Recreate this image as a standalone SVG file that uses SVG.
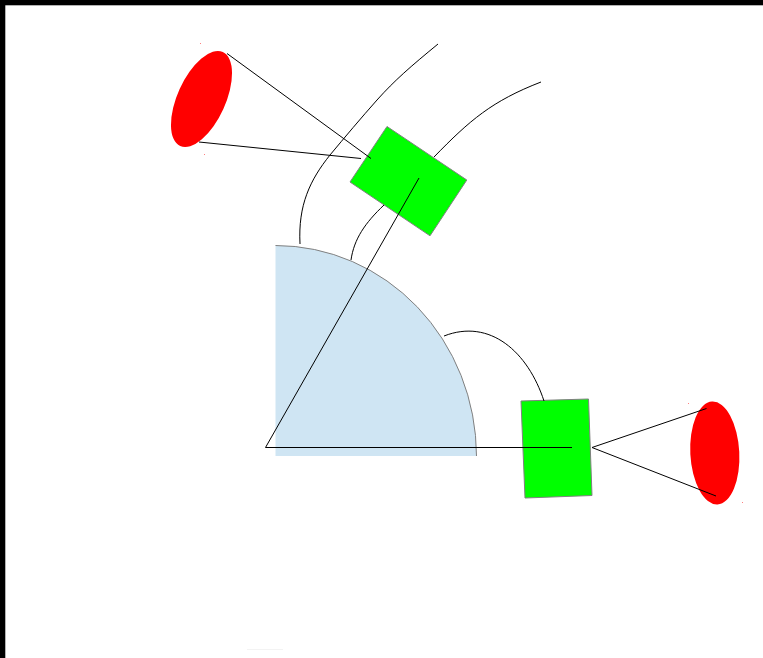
<svg xmlns="http://www.w3.org/2000/svg" width="763" height="658" viewBox="0 0 763 658">
<style>
.green{fill:#00ff00;stroke:#808080;stroke-width:1}
.red{fill:#ff0000;stroke:none}
.ln{fill:none;stroke:#000;stroke-width:1}
.dot{fill:#ff0000;opacity:.5}
</style>
<rect width="763" height="658" fill="#fff"/>
<g id="frame"><rect x="0" y="0" width="763" height="5.300" fill="#000"/><rect x="0" y="0" width="5.300" height="658" fill="#000"/><path d="M247 649.500H283" stroke="#f3f3f3" fill="none"/></g>
<g id="sector"><path d="M275.500 245.500A201 211 0 0 1 476.500 456L275.500 456Z" fill="#cfe5f3"/><path d="M275.500 245.500A201 211 0 0 1 476.500 456" fill="none" stroke="#808080"/></g>
<g id="box-top"><polygon class="green" points="387,126.500 466.800,180 430,235.800 350,182"/></g>
<g id="box-right"><polygon class="green" points="521,401 588.500,399 592,495.500 525,498"/></g>
<g id="lens-top"><ellipse class="red" cx="201.500" cy="99" rx="24" ry="51.600" transform="rotate(24.400 201.500 99)"/><rect class="dot" x="200" y="43" width="1" height="1"/><rect class="dot" x="204" y="154" width="1" height="1"/></g>
<g id="lens-right"><ellipse class="red" cx="714.800" cy="453" rx="24.500" ry="51.500" transform="rotate(-3 714.800 453)"/><rect class="dot" x="688" y="403" width="1" height="1"/><rect class="dot" x="742" y="502" width="1" height="1"/></g>
<g id="connectors">
<path class="ln" d="M265.500 447.500L572 447.500"/>
<path class="ln" d="M265.500 447.500L419 178"/>
<path class="ln" d="M227 53.500L371 158.500"/>
<path class="ln" d="M199 142L361 158.500"/>
<path class="ln" d="M706.500 408.500L592 447.500L716 496"/>
<path class="ln" d="M300 244C298 205 310 180 330 155C345 137 361 118 377 100C395 80 410 67 438 44"/>
<path class="ln" d="M434 157C470 120 492 101 541 82"/>
<path class="ln" d="M351 260C354 239 365 223 384 205"/>
<path class="ln" d="M444 336C490 318 528 352 544 401"/>
</g>
</svg>
